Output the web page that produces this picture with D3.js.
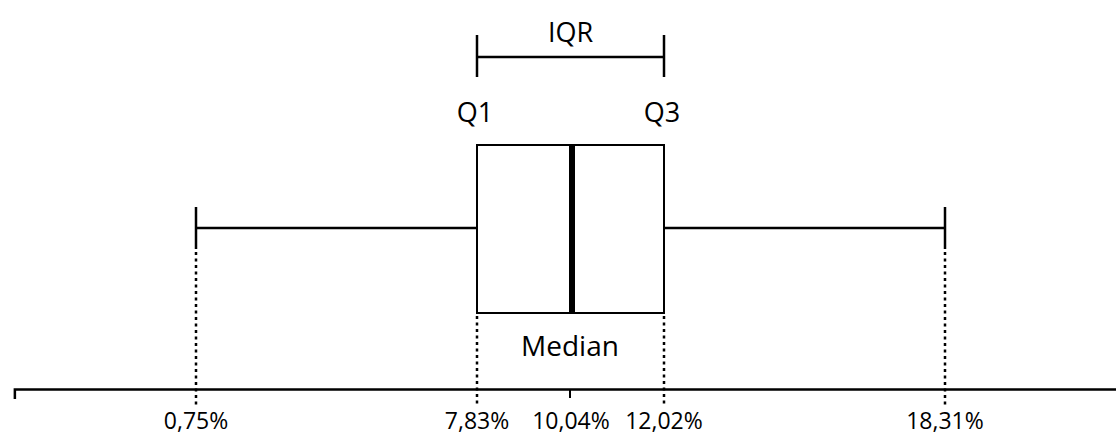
<!DOCTYPE html>
<html>
<head>
<meta charset="utf-8">
<script src="https://cdn.jsdelivr.net/npm/d3@7"></script>
<style>
  html, body { margin: 0; padding: 0; background: #fff; }
  text { font-family: "Open Sans", sans-serif; fill: #000; }
</style>
</head>
<body>
<svg id="chart"></svg>
<script>
// five-number summary (values in %)
const statNames = ["Min", "Q1", "Median", "Q3", "Max"];
const statValues = [0.75, 7.83, 10.04, 12.02, 18.31];
const tickLabels = ["0,75%", "7,83%", "10,04%", "12,02%", "18,31%"];
// schematic diagram: not drawn to scale, whiskers 3 units, half-box 1 unit
const schematicUnits = [0, 3, 4, 5, 8];
const axisUnits = [-1.94, 9.9];

const W = 1116, H = 435;
const margin = { left: 196, right: 171 };
const innerW = W - margin.left - margin.right;

const svg = d3.select("#chart")
    .attr("width", W)
    .attr("height", H)
    .attr("viewBox", `0 0 ${W} ${H}`);

const g = svg.append("g")
    .attr("transform", `translate(${margin.left},0)`);

const u = d3.scaleLinear().domain([0, 8]).range([0, innerW]);
const x = d3.scaleLinear()
    .domain(statValues)
    .range(schematicUnits.map(d => u(d)))
    .interpolate(d3.interpolateRound);

const stat = {};
statNames.forEach((n, i) => stat[n] = statValues[i]);

// vertical layout
const boxTop = 145, boxBottom = 313, midY = 228, capH = 21;
const axisY = 389, dashEnd = 405;
const iqrY = 57;

// axis
const axisScale = d3.scaleLinear().domain(axisUnits).range(axisUnits.map(d => u(d)));
const axis = g.append("g")
    .attr("transform", `translate(0,${axisY})`)
    .call(d3.axisBottom(axisScale)
        .tickValues([schematicUnits[2]])
        .tickFormat("")
        .tickSize(9)
        .tickSizeOuter(10));
axis.select(".domain").attr("stroke-width", 2.5);
axis.selectAll(".tick line").attr("stroke-width", 2).attr("transform", "translate(-1,0)");

// dotted guides
const dash = "3,3.5";
g.selectAll(".guide")
    .data([stat.Min, stat.Max])
    .enter().append("line")
    .attr("x1", d => x(d)).attr("x2", d => x(d))
    .attr("y1", midY + capH + 3).attr("y2", dashEnd)
    .attr("stroke", "#000").attr("stroke-width", 2.5)
    .attr("stroke-dasharray", dash);
g.selectAll(".guideq")
    .data([stat.Q1, stat.Q3])
    .enter().append("line")
    .attr("x1", d => x(d)).attr("x2", d => x(d))
    .attr("y1", boxBottom + 3).attr("y2", dashEnd)
    .attr("stroke", "#000").attr("stroke-width", 2.5)
    .attr("stroke-dasharray", dash);

// whiskers
g.append("line")
    .attr("x1", x(stat.Min)).attr("x2", x(stat.Q1))
    .attr("y1", midY).attr("y2", midY)
    .attr("stroke", "#000").attr("stroke-width", 2.5);
g.append("line")
    .attr("x1", x(stat.Q3)).attr("x2", x(stat.Max))
    .attr("y1", midY).attr("y2", midY)
    .attr("stroke", "#000").attr("stroke-width", 2.5);
g.selectAll(".cap")
    .data([stat.Min, stat.Max])
    .enter().append("line")
    .attr("x1", d => x(d)).attr("x2", d => x(d))
    .attr("y1", midY - capH).attr("y2", midY + capH)
    .attr("stroke", "#000").attr("stroke-width", 2.5);

// box
g.append("rect")
    .attr("x", x(stat.Q1))
    .attr("y", boxTop)
    .attr("width", x(stat.Q3) - x(stat.Q1))
    .attr("height", boxBottom - boxTop)
    .attr("fill", "#fff")
    .attr("stroke", "#000")
    .attr("stroke-width", 2);

// median
g.append("line")
    .attr("x1", x(stat.Median) + 1).attr("x2", x(stat.Median) + 1)
    .attr("y1", boxTop).attr("y2", boxBottom)
    .attr("stroke", "#000").attr("stroke-width", 6);

// IQR bracket
g.append("line")
    .attr("x1", x(stat.Q1)).attr("x2", x(stat.Q3))
    .attr("y1", iqrY).attr("y2", iqrY)
    .attr("stroke", "#000").attr("stroke-width", 2.5);
g.selectAll(".iqrcap")
    .data([stat.Q1, stat.Q3])
    .enter().append("line")
    .attr("x1", d => x(d)).attr("x2", d => x(d))
    .attr("y1", iqrY - 22).attr("y2", iqrY + 20)
    .attr("stroke", "#000").attr("stroke-width", 2.5);

g.append("text")
    .attr("x", (x(stat.Q1) + x(stat.Q3)) / 2)
    .attr("y", 42)
    .attr("text-anchor", "middle")
    .attr("font-size", 27)
    .text("IQR");

g.selectAll(".qlabel")
    .data([["Q1", stat.Q1], ["Q3", stat.Q3]])
    .enter().append("text")
    .attr("x", d => x(d[1]) - 2)
    .attr("y", 122)
    .attr("text-anchor", "middle")
    .attr("font-size", 27)
    .text(d => d[0]);

g.append("text")
    .attr("x", x(stat.Median) - 1)
    .attr("y", 356)
    .attr("text-anchor", "middle")
    .attr("font-size", 28)
    .text("Median");

// value labels
g.selectAll(".vlabel")
    .data(statValues)
    .enter().append("text")
    .attr("x", d => x(d))
    .attr("y", 429)
    .attr("text-anchor", "middle")
    .attr("font-size", 23)
    .text((d, i) => tickLabels[i]);
</script>
</body>
</html>
